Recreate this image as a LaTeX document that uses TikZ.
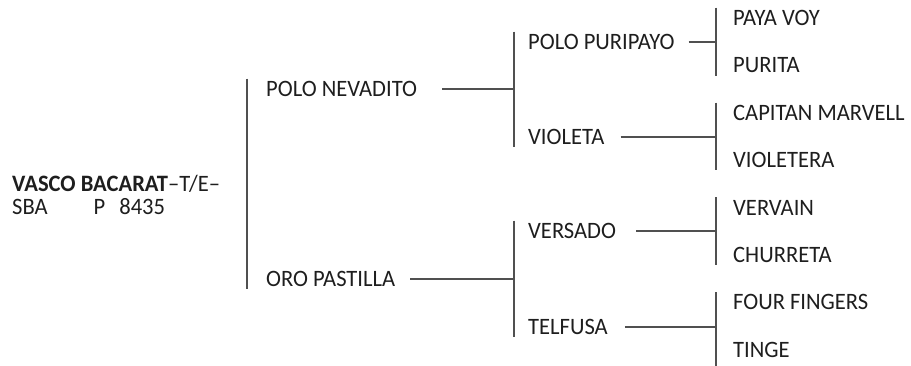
\documentclass[tikz,border=0pt]{standalone}
\usepackage{fontspec}
\setmainfont{Carlito}[FakeStretch=0.96]
\usetikzlibrary{positioning}
\definecolor{pedtext}{RGB}{30,30,30}
\definecolor{pedline}{RGB}{80,80,80}

\begin{document}
\begin{tikzpicture}[x=1pt,y=-1pt,
    horse/.style={anchor=west,inner xsep=0pt,inner ysep=2.5pt,text height=15.1pt,
      text depth=0pt,font=\fontsize{23.5}{23}\selectfont,text=pedtext},
    link/.style={draw=pedline,line width=1.1pt}]
  \useasboundingbox (0,0) rectangle (911,366);
  % ejemplar
  \node[anchor=west,inner sep=0pt,align=left,text=pedtext,
        font=\fontsize{23.5}{23}\selectfont] (root) at (12,195)
    {\textbf{VASCO BACARAT}\textendash T/E\textendash\\SBA\hspace{46pt}P\hspace{14pt}8435};
  % padres y abuelos
  \node[horse] (pn) at (266,89) {POLO NEVADITO};
  \node[horse] (op) at (266,279) {ORO PASTILLA};
  \node[horse] (pp) at (528,42) {POLO PURIPAYO};
  \node[horse] (vi) at (528,137) {VIOLETA};
  \node[horse] (ve) at (528,231) {VERSADO};
  \node[horse] (te) at (528,327) {TELFUSA};
  % bisabuelos
  \foreach \nm/\txt [count=\i from 0] in {pv/PAYA VOY,pu/PURITA,cm/CAPITAN MARVELL,
      vt/VIOLETERA,vv/VERVAIN,ch/CHURRETA,ff/FOUR FINGERS,ti/TINGE}
    \node[horse] (\nm) at (733,18+47.4*\i) {\txt};
  % barras
  \coordinate (b1) at (247,0);
  \coordinate (b2) at (514,0);
  \coordinate (b3) at (716,0);
  \draw[link] (pn.north -| b1) -- (op.south -| b1);
  \draw[link] (pp.north -| b2) -- (vi.south -| b2);
  \draw[link] (ve.north -| b2) -- (te.south -| b2);
  \draw[link] (pv.north -| b3) -- (pu.south -| b3);
  \draw[link] (cm.north -| b3) -- (vt.south -| b3);
  \draw[link] (vv.north -| b3) -- (ch.south -| b3);
  \draw[link] (ff.north -| b3) -- ([yshift=-6pt]ti.south -| b3);
  % lineas
  \draw[link] ([xshift=25pt]pn.east) -- (pn.east -| b2);
  \draw[link] ([xshift=15pt]op.east) -- (op.east -| b2);
  \draw[link] ([xshift=14pt]pp.east) -- (pp.east -| b3);
  \draw[link] ([xshift=16pt]vi.east) -- (vi.east -| b3);
  \draw[link] ([xshift=20pt]ve.east) -- (ve.east -| b3);
  \draw[link] ([xshift=17pt]te.east) -- (te.east -| b3);
\end{tikzpicture}
\end{document}
